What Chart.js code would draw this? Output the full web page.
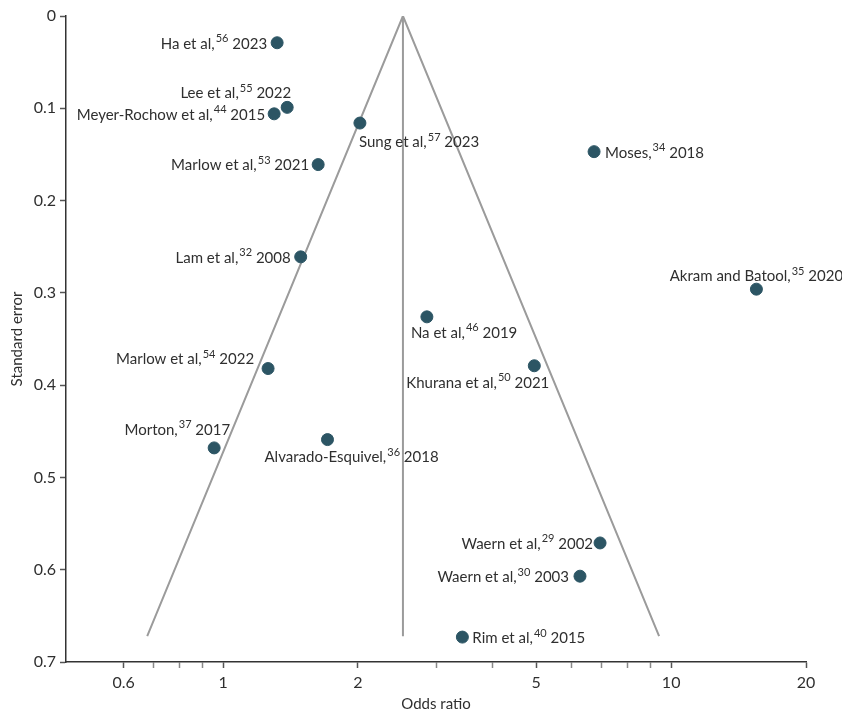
<!DOCTYPE html>
<html>
<head>
<meta charset="utf-8">
<script src="https://cdn.jsdelivr.net/npm/chart.js@4.4.1/dist/chart.umd.min.js"></script>
<style>
  html, body { margin: 0; padding: 0; background: #ffffff; }
  #wrap { width: 842px; height: 713px; }
</style>
</head>
<body>
<div id="wrap"><canvas id="funnel" width="842" height="713"></canvas></div>
<script>
// Studies in the meta-analysis: author label, reference number, year
const studyNames = ['Ha et al,', 'Lee et al,', 'Meyer-Rochow et al,', 'Sung et al,', 'Marlow et al,',
  'Moses,', 'Lam et al,', 'Akram and Batool,', 'Na et al,', 'Marlow et al,', 'Khurana et al,',
  'Morton,', 'Alvarado-Esquivel,', 'Waern et al,', 'Waern et al,', 'Rim et al,'];
const studyRefs = ['56', '55', '44', '57', '53', '34', '32', '35', '46', '54', '50', '37', '36', '29', '30', '40'];
const studyYears = ['2023', '2022', '2015', '2023', '2021', '2018', '2008', '2020', '2019', '2022', '2021',
  '2017', '2018', '2002', '2003', '2015'];

// Effect size (odds ratio) and its standard error for each study
const oddsRatios = [1.32, 1.39, 1.30, 2.02, 1.63, 6.73, 1.49, 15.5, 2.85, 1.26, 4.95, 0.955, 1.71, 6.94, 6.26, 3.42];
const standardErrors = [0.029, 0.099, 0.106, 0.116, 0.161, 0.147, 0.261, 0.296, 0.326, 0.382, 0.379,
  0.468, 0.459, 0.571, 0.607, 0.673];

// Pooled estimate and 95% pseudo-confidence limits of the funnel
const pooledOR = 2.52;
const funnelBottomSE = 0.672;
const funnelLowerOR = 0.677;
const funnelUpperOR = 9.40;

// Axis ticks
const xMajorTicks = [0.6, 1, 2, 5, 10, 20];
const xMinorTicks = [0.7, 0.8, 0.9, 3, 4, 6, 7, 8, 9];
const yTicks = [0, 0.1, 0.2, 0.3, 0.4, 0.5, 0.6, 0.7];

// Where each study's label sits relative to its marker: [text alignment, dx, dy]
const labelPlacement = [
  ['right', -10, 0], ['right', 4, -15], ['right', -9, 0], ['left', -1, 18], ['right', -9, 0],
  ['left', 11, 0], ['right', -10, 0], ['center', 0, -14], ['left', -16, 15], ['right', -14, -10],
  ['right', 15, 16], ['right', 16, -19], ['left', -63, 17], ['right', -7, 0], ['right', -11, 0],
  ['left', 10, 0]
];

const FONT = 'Lato, "Liberation Sans", sans-serif';
const TEXT_COLOR = '#2f2f2f';
const POINT_COLOR = '#2c5564';
const FUNNEL_COLOR = '#9b9b9b';

const studyPoints = oddsRatios.map((or, i) => ({ x: or, y: standardErrors[i] }));

// Draws "Name,<sup>ref</sup> year" next to each study marker
const studyLabels = {
  id: 'studyLabels',
  afterDatasetsDraw(chart) {
    const ctx = chart.ctx;
    const meta = chart.getDatasetMeta(0);
    const mainFont = '15px ' + FONT;
    const supFont = '11px ' + FONT;
    ctx.save();
    ctx.fillStyle = TEXT_COLOR;
    ctx.textBaseline = 'middle';
    ctx.textAlign = 'left';
    meta.data.forEach((pt, i) => {
      const name = studyNames[i];
      const ref = studyRefs[i];
      const tail = ' ' + studyYears[i];
      ctx.font = mainFont;
      const w1 = ctx.measureText(name).width;
      const w3 = ctx.measureText(tail).width;
      ctx.font = supFont;
      const w2 = ctx.measureText(ref).width + 1;
      const total = w1 + w2 + w3;
      const [align, dx, dy] = labelPlacement[i];
      let x = pt.x + dx;
      if (align === 'right') x -= total;
      else if (align === 'center') x -= total / 2;
      const y = pt.y + dy + 1;
      ctx.font = mainFont;
      ctx.fillText(name, x, y);
      ctx.font = supFont;
      ctx.fillText(ref, x + w1 + 1, y - 5);
      ctx.font = mainFont;
      ctx.fillText(tail, x + w1 + w2, y);
    });
    ctx.restore();
  }
};

new Chart(document.getElementById('funnel'), {
  type: 'scatter',
  data: {
    datasets: [
      {
        label: 'Studies',
        data: studyPoints,
        backgroundColor: POINT_COLOR,
        borderColor: POINT_COLOR,
        pointRadius: 6,
        pointHoverRadius: 6,
        order: 0
      },
      {
        label: 'Pooled estimate',
        type: 'line',
        data: [{ x: pooledOR, y: 0 }, { x: pooledOR, y: funnelBottomSE }],
        borderColor: FUNNEL_COLOR,
        borderWidth: 2,
        pointRadius: 0,
        order: 2
      },
      {
        label: 'Pseudo 95% limits',
        type: 'line',
        data: [{ x: funnelLowerOR, y: funnelBottomSE }, { x: pooledOR, y: 0 }, { x: funnelUpperOR, y: funnelBottomSE }],
        borderColor: FUNNEL_COLOR,
        borderWidth: 2,
        pointRadius: 0,
        order: 1
      }
    ]
  },
  options: {
    responsive: false,
    animation: false,
    devicePixelRatio: 1,
    layout: { padding: { top: 16, right: 36, left: 0, bottom: 0 } },
    plugins: {
      legend: { display: false },
      tooltip: { enabled: false }
    },
    scales: {
      x: {
        type: 'logarithmic',
        min: 0.446,
        max: 20,
        afterBuildTicks(scale) {
          scale.ticks = xMajorTicks.concat(xMinorTicks).sort((a, b) => a - b).map(v => ({ value: v, major: xMajorTicks.includes(v) }));
        },
        afterFit(scale) { scale.height = 51; },
        ticks: {
          autoSkip: false,
          maxRotation: 0,
          padding: 5,
          color: TEXT_COLOR,
          font: { family: FONT, size: 16 },
          callback(value) { return xMajorTicks.includes(value) ? String(value) : ''; }
        },
        grid: {
          drawOnChartArea: false,
          drawTicks: true,
          tickLength: 6,
          tickWidth: 1.5,
          color(ctx) { return ctx.tick && xMajorTicks.includes(ctx.tick.value) ? '#555555' : '#888888'; }
        },
        border: { display: true, color: '#333333', width: 1.5 },
        title: {
          display: true,
          text: 'Odds ratio',
          color: TEXT_COLOR,
          font: { family: FONT, size: 15 },
          padding: { top: 0, bottom: 0 }
        }
      },
      y: {
        type: 'linear',
        reverse: true,
        min: 0,
        max: 0.7,
        afterBuildTicks(scale) {
          scale.ticks = yTicks.map(v => ({ value: v }));
        },
        afterFit(scale) { scale.width = 66; },
        ticks: {
          padding: 4,
          color: TEXT_COLOR,
          font: { family: FONT, size: 16 },
          callback(value) { return String(Math.round(value * 10) / 10); }
        },
        grid: {
          drawOnChartArea: false,
          drawTicks: true,
          tickLength: 6,
          tickWidth: 1.5,
          color: '#555555'
        },
        border: { display: true, color: '#333333', width: 1.5 },
        title: {
          display: true,
          text: 'Standard error',
          color: TEXT_COLOR,
          font: { family: FONT, size: 15 },
          padding: { top: 8, bottom: 0 }
        }
      }
    }
  },
  plugins: [studyLabels]
});
</script>
</body>
</html>
